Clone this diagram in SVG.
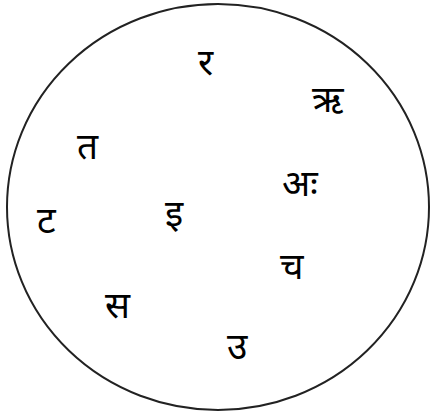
<svg xmlns="http://www.w3.org/2000/svg" width="430" height="414" viewBox="0 0 430 414">
<style>
.c{fill:#fff;stroke:#222;stroke-width:2}
.t{font-family:"Noto Sans","Noto Sans Devanagari","Lohit Devanagari",sans-serif;font-size:37px;fill:#000}
</style>
<rect width="430" height="414" fill="#fff"/>
<ellipse class="c" cx="218" cy="207" rx="211" ry="203"/>
<g id="n1"><text class="t" x="198" y="75">र</text></g>
<g id="n2"><text class="t" x="312" y="112">ऋ</text></g>
<g id="n3"><text class="t" x="77" y="159">त</text></g>
<g id="n4"><text class="t" x="282" y="196">अः</text></g>
<g id="n5"><text class="t" x="37" y="233">ट</text></g>
<g id="n6"><text class="t" x="165" y="226">इ</text></g>
<g id="n7"><text class="t" x="280" y="279">च</text></g>
<g id="n8"><text class="t" x="105" y="318">स</text></g>
<g id="n9"><text class="t" x="227" y="359">उ</text></g>
</svg>
